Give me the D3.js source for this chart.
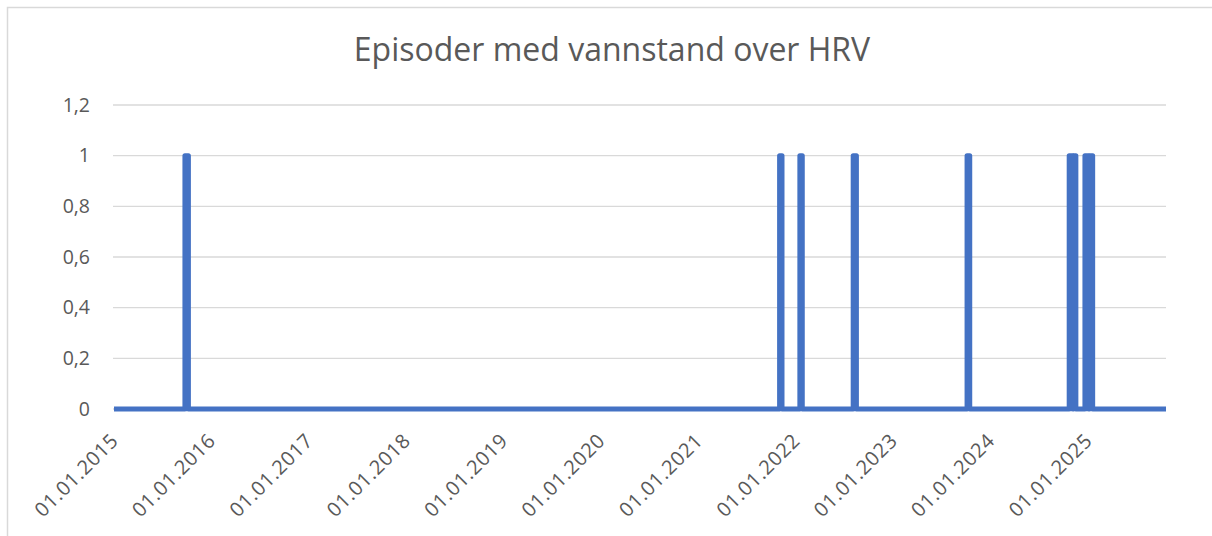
<!DOCTYPE html>
<html>
<head>
<meta charset="utf-8">
<script src="https://cdn.jsdelivr.net/npm/d3@7"></script>
<style>
  body { margin: 0; background: #fff; }
  svg { display: block; font-family: 'Open Sans', sans-serif; }
</style>
</head>
<body>
<div id="chart"></div>
<script>
// chart data
const title = 'Episoder med vannstand over HRV'
const seriesStart = '2015-01-01'
const seriesEnd = '2025-10-20'
// episodes with water level over HRV (value 1 between start and end)
const episodeStarts = ['2015-09-24', '2021-11-01', '2022-01-16', '2022-08-04', '2023-10-05',
  '2024-10-22', '2024-11-07', '2024-12-20', '2025-01-06']
const episodeEnds = ['2015-10-07', '2021-11-10', '2022-01-25', '2022-08-16', '2023-10-15',
  '2024-11-05', '2024-11-16', '2025-01-03', '2025-01-18']
const episodeValues = [1, 1, 1, 1, 1, 1, 1, 1, 1]
const yTicks = [0, 0.2, 0.4, 0.6, 0.8, 1, 1.2]
const xTickYears = [2015, 2016, 2017, 2018, 2019, 2020, 2021, 2022, 2023, 2024, 2025]

const parse = d3.timeParse('%Y-%m-%d')
const width = 1212, height = 536
const margin = { top: 105, right: 46, bottom: 127, left: 114 }
const innerW = width - margin.left - margin.right
const innerH = height - margin.top - margin.bottom
const font = "'Open Sans', sans-serif"

const svg = d3.select('#chart')
    .append('svg')
    .attr('width', width)
    .attr('height', height)

// chart border
svg.append('rect')
    .attr('x', 7.5)
    .attr('y', 7.5)
    .attr('width', width)
    .attr('height', height)
    .attr('fill', 'none')
    .attr('stroke', '#d9d9d9')
    .attr('stroke-width', 1.5)

svg.append('text')
    .attr('x', 612)
    .attr('y', 61)
    .attr('text-anchor', 'middle')
    .attr('fill', '#595959')
    .style('font-size', '32px')
    .text(title)

const g = svg.append('g')
    .attr('transform', 'translate(' + margin.left + ',' + margin.top + ')')

const x = d3.scaleTime()
    .domain([parse(seriesStart), parse(seriesEnd)])
    .range([0, innerW])
const y = d3.scaleLinear()
    .domain([0, 1.2])
    .range([innerH, 0])

// gridlines
g.append('g')
    .selectAll('line')
    .data(yTicks)
    .enter().append('line')
    .attr('x1', -1)
    .attr('x2', innerW)
    .attr('y1', d => y(d))
    .attr('y2', d => y(d))
    .attr('stroke', '#d9d9d9')
    .attr('stroke-width', 1.3)

// y axis
const yAxis = d3.axisLeft(y)
    .tickValues(yTicks)
    .tickSize(0)
    .tickPadding(24)
    .tickFormat(d => String(d).replace('.', ','))
const yG = g.append('g').call(yAxis)
    .attr('font-family', font)
    .attr('font-size', 19.5)
yG.select('.domain').remove()
yG.selectAll('text').attr('fill', '#595959')

// x axis
const xAxis = d3.axisBottom(x)
    .tickValues(xTickYears.map(yr => new Date(yr, 0, 1)))
    .tickSize(0)
    .tickFormat(d3.timeFormat('%d.%m.%Y'))
const xG = g.append('g')
    .attr('transform', 'translate(0,' + innerH + ')')
    .call(xAxis)
    .attr('font-family', font)
    .attr('font-size', 20)
xG.select('.domain').remove()
xG.selectAll('text')
    .attr('fill', '#595959')
    .style('letter-spacing', '0.6px')
    .attr('text-anchor', 'end')
    .attr('dy', '0.35em')
    .attr('y', 0)
    .attr('transform', 'translate(0,28) rotate(-45)')

// build series points from episodes
const points = [{ date: parse(seriesStart), value: 0 }]
episodeStarts.forEach((s, i) => {
  points.push({ date: parse(s), value: 0 })
  points.push({ date: parse(s), value: episodeValues[i] })
  points.push({ date: parse(episodeEnds[i]), value: episodeValues[i] })
  points.push({ date: parse(episodeEnds[i]), value: 0 })
})
points.push({ date: parse(seriesEnd), value: 0 })

const line = d3.line()
    .x(d => x(d.date))
    .y(d => y(d.value))

g.append('path')
    .datum(points)
    .attr('d', line)
    .attr('fill', 'none')
    .attr('stroke', '#4472c4')
    .attr('stroke-width', 5)
    .attr('stroke-linejoin', 'round')
    .attr('stroke-linecap', 'butt')
</script>
</body>
</html>
